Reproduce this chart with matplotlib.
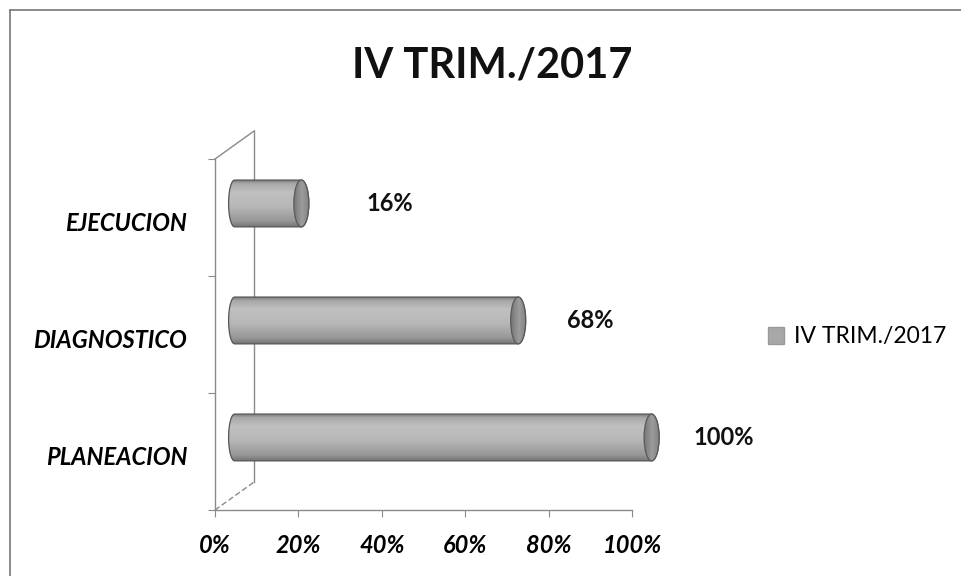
import matplotlib
matplotlib.use("Agg")
import matplotlib.pyplot as plt
import numpy as np
from matplotlib.colors import LinearSegmentedColormap
from matplotlib.lines import Line2D
from matplotlib.patches import Ellipse, Patch, PathPatch
from matplotlib.path import Path

# data (bottom to top)
categories = ["PLANEACION", "DIAGNOSTICO", "EJECUCION"]
values = [1.00, 0.68, 0.16]
value_labels = ["100%", "68%", "16%"]
series_name = "IV TRIM./2017"
title = "IV TRIM./2017"
x_ticks = [0.0, 0.2, 0.4, 0.6, 0.8, 1.0]
x_tick_labels = ["0%", "20%", "40%", "60%", "80%", "100%"]
label_offsets = [0.22, 0.22, 0.26]

FONT = "Lato"
DX, DY = 0.094, 0.24      # depth of the fake 3d box, data units
BAR_H = 0.20              # half height of cylinder
RX = 0.018                # horizontal radius of the end caps

plt.rcParams["font.family"] = [FONT, "DejaVu Sans"]

fig = plt.figure(figsize=(9.61, 5.76), dpi=100)
W, H = 961, 576
ax = fig.add_axes([215 / W, 1 - 510 / H, (632 - 215) / W, (510 - 159) / H])

body_cmap = LinearSegmentedColormap.from_list(
    "body", [(0, "#747474"), (0.12, "#979797"), (0.45, "#b8b8b8"),
             (0.75, "#c0c0c0"), (0.93, "#a8a8a8"), (1, "#808080")])
cap_cmap = LinearSegmentedColormap.from_list(
    "cap", [(0, "#767676"), (0.5, "#9c9c9c"), (1, "#808080")])
grad = np.linspace(0, 1, 64).reshape(-1, 1)

# back wall of the 3d frame
ax.plot([DX, DX], [DY, 3 + DY], color="#8a8a8a", lw=1, zorder=1, clip_on=False)
ax.plot([0, DX], [3, 3 + DY], color="#8a8a8a", lw=1, zorder=1, clip_on=False)
ax.plot([0, DX], [0, DY], color="#8a8a8a", lw=1, ls=(0, (4, 2)), zorder=1, clip_on=False)

ys = np.arange(len(categories)) + 0.5
for yc0, v, lab, off in zip(ys, values, value_labels, label_offsets):
    x0 = DX / 2
    x1 = v + DX / 2
    yc = yc0 + DY / 2
    t = np.linspace(np.pi / 2, 3 * np.pi / 2, 30)
    left = np.column_stack([x0 + RX * 0.8 * np.cos(t), yc + BAR_H * np.sin(t)])
    t2 = np.linspace(-np.pi / 2, np.pi / 2, 30)
    right = np.column_stack([x1 + RX * np.cos(t2), yc + BAR_H * np.sin(t2)])
    path = Path(np.vstack([left, right, left[:1]]))
    ax.add_patch(PathPatch(path, facecolor="none", edgecolor="#555555", lw=0.9,
                           zorder=4, clip_on=False))
    im = ax.imshow(grad, cmap=body_cmap, aspect="auto", origin="lower",
                   extent=[x0 - RX, x1 + RX, yc - BAR_H, yc + BAR_H], zorder=3)
    im.set_clip_box(fig.bbox)
    im.set_clip_path(PathPatch(path, transform=ax.transData))
    ax.add_patch(Ellipse((x1, yc), 2 * RX, 2 * BAR_H, facecolor="none",
                         edgecolor="#5a5a5a", lw=0.9, zorder=6, clip_on=False))
    im2 = ax.imshow(grad.T, cmap=cap_cmap, aspect="auto", origin="lower",
                    extent=[x1 - RX, x1 + RX, yc - BAR_H, yc + BAR_H], zorder=5)
    im2.set_clip_box(fig.bbox)
    im2.set_clip_path(Ellipse((x1, yc), 2 * RX, 2 * BAR_H, transform=ax.transData))
    ax.text(v + off, yc, lab, ha="center", va="center", fontsize=17,
            fontweight="bold", color="#111111")

ax.set_xlim(0, 1)
ax.set_ylim(0, 3)

for s in ["top", "right"]:
    ax.spines[s].set_visible(False)
for s in ["left", "bottom"]:
    ax.spines[s].set_color("#8a8a8a")
    ax.spines[s].set_linewidth(1)

ax.set_xticks(x_ticks)
ax.set_xticklabels(x_tick_labels, fontsize=17, fontweight="bold", fontstyle="italic")
ax.tick_params(axis="x", length=5, color="#8a8a8a", pad=12)
ax.set_yticks([0, 1, 2, 3])
ax.set_yticklabels([])
ax.tick_params(axis="y", which="major", length=5, color="#8a8a8a")
ax.set_yticks(ys - 0.03, minor=True)
ax.set_yticklabels(categories, minor=True, fontsize=17, fontweight="bold",
                   fontstyle="italic")
ax.tick_params(axis="y", which="minor", length=0, pad=20)
ax.patch.set_alpha(0)

fig.text(492 / W, 1 - 66 / H, title, ha="center", va="center", fontsize=30,
         fontweight="bold", color="#111111")

fig.legend(handles=[Patch(facecolor="#a8a8a8", edgecolor="#999999")], labels=[series_name],
           loc="center left", bbox_to_anchor=(747 / W, 1 - 337 / H), frameon=False,
           handlelength=0.7, handleheight=0.7, handletextpad=0.45, fontsize=16.5)

# outer chart border (only top and left survive in the scan)
fig.add_artist(Line2D([10 / W, 1], [1 - 10 / H, 1 - 10 / H], color="#777777", lw=1.2))
fig.add_artist(Line2D([10 / W, 10 / W], [0, 1 - 10 / H], color="#777777", lw=1.2))

fig.savefig("out.png", dpi=100)
